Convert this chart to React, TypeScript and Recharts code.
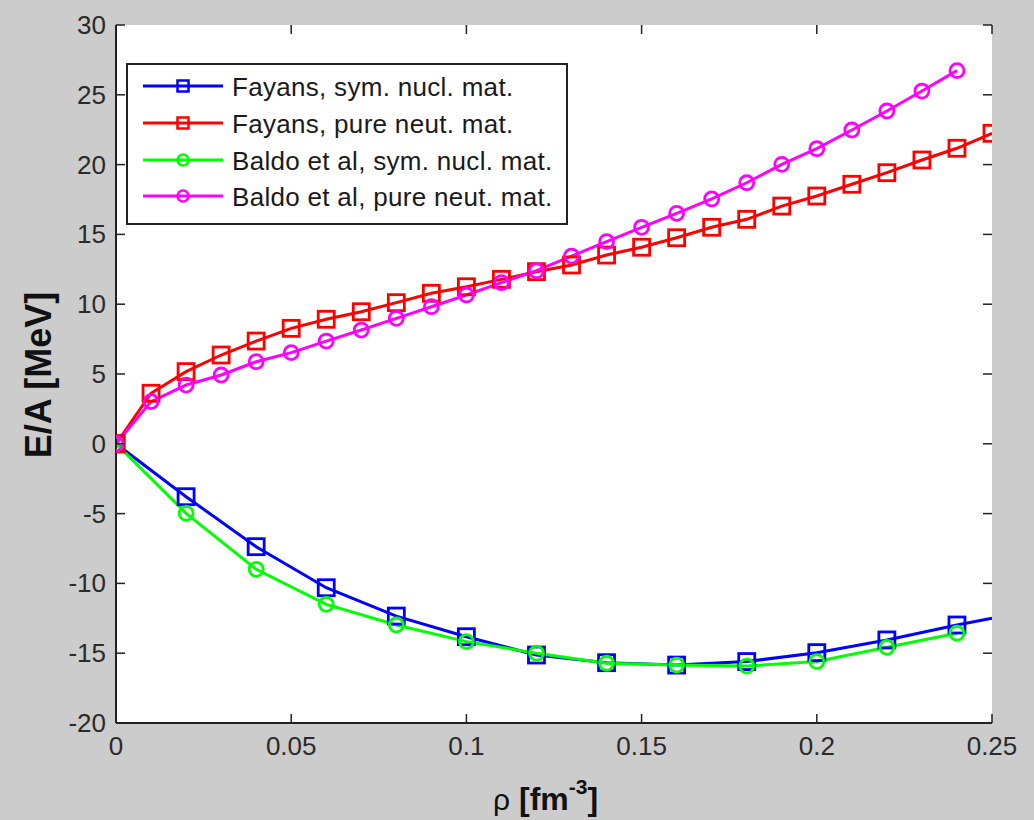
import { LineChart, Line, XAxis, YAxis, CartesianGrid, Label } from 'recharts'

// Fayans functional, symmetric nuclear matter (markers every 0.02, line runs to 0.25)
const fayansSymRho = [0, 0.02, 0.04, 0.06, 0.08, 0.1, 0.12, 0.14, 0.16, 0.18, 0.2, 0.22, 0.24, 0.25]
const fayansSymE = [0, -3.79, -7.37, -10.31, -12.34, -13.82, -15.13, -15.68, -15.85, -15.6, -14.96, -14.05, -12.98, -12.5]

// Fayans functional, pure neutron matter
const fayansNeutRho = [
  0, 0.01, 0.02, 0.03, 0.04, 0.05, 0.06, 0.07, 0.08, 0.09, 0.1, 0.11, 0.12,
  0.13, 0.14, 0.15, 0.16, 0.17, 0.18, 0.19, 0.2, 0.21, 0.22, 0.23, 0.24, 0.25,
]
const fayansNeutE = [
  0, 3.62, 5.17, 6.36, 7.36, 8.27, 8.92, 9.46, 10.11, 10.78, 11.25, 11.78, 12.33,
  12.81, 13.52, 14.08, 14.76, 15.51, 16.08, 17.03, 17.75, 18.59, 19.42, 20.33, 21.17, 22.24,
]

// Baldo et al, symmetric nuclear matter
const baldoSymRho = [0, 0.02, 0.04, 0.06, 0.08, 0.1, 0.12, 0.14, 0.16, 0.18, 0.2, 0.22, 0.24]
const baldoSymE = [0, -4.98, -8.99, -11.5, -12.98, -14.17, -15.0, -15.72, -15.85, -15.92, -15.6, -14.58, -13.57]

// Baldo et al, pure neutron matter
const baldoNeutRho = [
  0, 0.01, 0.02, 0.03, 0.04, 0.05, 0.06, 0.07, 0.08, 0.09, 0.1, 0.11, 0.12,
  0.13, 0.14, 0.15, 0.16, 0.17, 0.18, 0.19, 0.2, 0.21, 0.22, 0.23, 0.24,
]
const baldoNeutE = [
  0, 3.02, 4.21, 4.93, 5.88, 6.53, 7.36, 8.15, 8.99, 9.82, 10.66, 11.54, 12.4,
  13.45, 14.48, 15.51, 16.51, 17.54, 18.7, 20.02, 21.14, 22.48, 23.84, 25.27, 26.73,
]

const seriesNames = [
  'Fayans, sym. nucl. mat.',
  'Fayans, pure neut. mat.',
  'Baldo et al, sym. nucl. mat.',
  'Baldo et al, pure neut. mat.',
]
const seriesColors = ['#0000ff', '#ff0000', '#00ff00', '#ff00ff']
const seriesMarkers = ['square', 'square', 'circle', 'circle']

const xTicks = [0, 0.05, 0.1, 0.15, 0.2, 0.25]
const xTickLabels = ['0', '0.05', '0.1', '0.15', '0.2', '0.25']
const yTicks = [-20, -15, -10, -5, 0, 5, 10, 15, 20, 25, 30]

const zip = (rho: number[], e: number[]) => rho.map((r, i) => ({ rho: r, e: e[i] }))
const seriesData = [
  zip(fayansSymRho, fayansSymE),
  zip(fayansNeutRho, fayansNeutE),
  zip(baldoSymRho, baldoSymE),
  zip(baldoNeutRho, baldoNeutE),
]

// layout
const W = 1034
const H = 820
const PL = 116
const PR = 992
const PT = 25
const PB = 723
const TICK = 9
const FONT = '"Liberation Sans", Arial, sans-serif'
const INK = '#222'

function Marker({ cx, cy, shape, color, size, sw = 2.8 }: { cx: number; cy: number; shape: string; color: string; size: number; sw?: number }) {
  if (shape === 'square') {
    return <rect x={cx - size / 2} y={cy - size / 2} width={size} height={size} fill="none" stroke={color} strokeWidth={sw} />
  }
  return <circle cx={cx} cy={cy} r={size / 2} fill="none" stroke={color} strokeWidth={sw} />
}

function makeDot(i: number) {
  return (p: any) => {
    const { cx, cy, payload, index } = p
    // blue curve carries no marker at its last point (0.25)
    if (cx == null || cy == null || (i === 0 && payload.rho > 0.245)) return <g key={`d${i}-${index}`} />
    return (
      <g key={`d${i}-${index}`}>
        <Marker cx={cx} cy={cy} shape={seriesMarkers[i]} color={seriesColors[i]} size={i < 2 ? 16 : 14} />
      </g>
    )
  }
}

function XTick(p: any) {
  const { x, payload } = p
  const idx = xTicks.indexOf(payload.value)
  return (
    <g>
      <line x1={x} x2={x} y1={PB} y2={PB - TICK} stroke={INK} strokeWidth={1.5} />
      <line x1={x} x2={x} y1={PT} y2={PT + TICK} stroke={INK} strokeWidth={1.5} />
      <text x={x} y={755} textAnchor="middle" fontFamily={FONT} fontSize={26} fill="#2a2a2a">
        {idx >= 0 ? xTickLabels[idx] : payload.value}
      </text>
    </g>
  )
}

function YTick(p: any) {
  const { y, payload } = p
  return (
    <g>
      <line x1={PL} x2={PL + TICK} y1={y} y2={y} stroke={INK} strokeWidth={1.5} />
      <line x1={PR} x2={PR - TICK} y1={y} y2={y} stroke={INK} strokeWidth={1.5} />
      <text x={106} y={y + 9} textAnchor="end" fontFamily={FONT} fontSize={26} fill="#2a2a2a">
        {payload.value}
      </text>
    </g>
  )
}

function LegendBox() {
  const rows = [23, 60, 97, 133]
  return (
    <svg width={442} height={162} style={{ position: 'absolute', left: 126, top: 63 }}>
      <rect x={1} y={1} width={440} height={160} fill="#fff" stroke={INK} strokeWidth={2} />
      {seriesNames.map((name, i) => (
        <g key={name}>
          <line x1={17} x2={97} y1={rows[i]} y2={rows[i]} stroke={seriesColors[i]} strokeWidth={3} />
          <Marker cx={57} cy={rows[i]} shape={seriesMarkers[i]} color={seriesColors[i]} size={11} sw={2.5} />
          <text x={106} y={rows[i] + 9.5} fontFamily={FONT} fontSize={26} fill="#1a1a1a" letterSpacing={0.3}>
            {name}
          </text>
        </g>
      ))}
    </svg>
  )
}

export default function App() {
  return (
    <div style={{ position: 'absolute', left: 0, top: 0, width: W, height: H, background: '#cccccc' }}>
      <LineChart width={W} height={H} margin={{ top: PT, right: W - PR, bottom: 37, left: 56 }}>
        <CartesianGrid fill="#fff" horizontal={false} vertical={false} />
        <XAxis
          dataKey="rho"
          type="number"
          domain={[0, 0.25]}
          ticks={xTicks}
          height={60}
          tickLine={false}
          axisLine={{ stroke: INK, strokeWidth: 2 }}
          tick={<XTick />}
          allowDataOverflow
        >
          <Label
            content={() => (
              <text x={493} y={810} fontFamily={FONT} fontSize={32} fontWeight="bold" fill="#111">
                <tspan fontWeight="normal" fontSize={30}>ρ</tspan>
                <tspan> [fm</tspan>
                <tspan fontSize={21} dy={-16}>-3</tspan>
                <tspan dy={16}>]</tspan>
              </text>
            )}
          />
        </XAxis>
        <XAxis xAxisId="top" orientation="top" type="number" domain={[0, 0.25]} height={0} tick={false} tickLine={false} axisLine={{ stroke: INK, strokeWidth: 2 }} />
        <YAxis
          type="number"
          domain={[-20, 30]}
          ticks={yTicks}
          width={60}
          tickLine={false}
          axisLine={{ stroke: INK, strokeWidth: 2 }}
          tick={<YTick />}
          allowDataOverflow
        >
          <Label
            content={() => (
              <text transform="translate(51, 375) rotate(-90)" textAnchor="middle" fontFamily={FONT} fontSize={36} fontWeight="bold" fill="#111">
                E/A [MeV]
              </text>
            )}
          />
        </YAxis>
        <YAxis yAxisId="right" orientation="right" type="number" domain={[-20, 30]} width={0} tick={false} tickLine={false} axisLine={{ stroke: INK, strokeWidth: 2 }} />
        {seriesData.map((d, i) => (
          <Line
            key={seriesNames[i]}
            data={d}
            dataKey="e"
            name={seriesNames[i]}
            type="linear"
            stroke={seriesColors[i]}
            strokeWidth={3}
            dot={makeDot(i)}
            activeDot={false}
            isAnimationActive={false}
          />
        ))}
      </LineChart>
      <LegendBox />
    </div>
  )
}
